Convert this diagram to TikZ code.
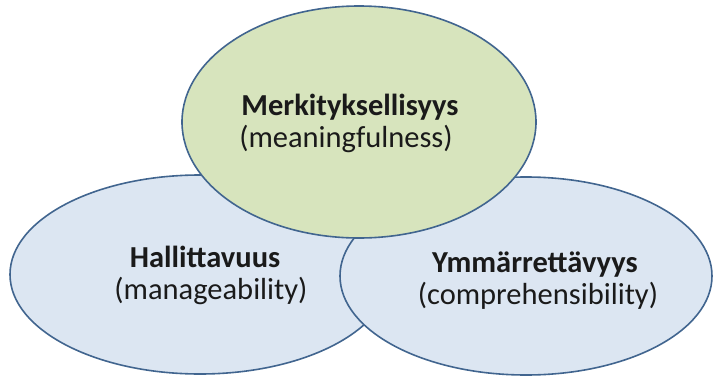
\documentclass[tikz,border=0pt]{standalone}
\usepackage{fontspec}
\setmainfont{Carlito}
\usetikzlibrary{shapes.geometric}
\definecolor{bluefill}{HTML}{DCE6F2}
\definecolor{greenfill}{HTML}{D7E4BD}
\definecolor{edge}{HTML}{41658F}
\definecolor{txt}{HTML}{1A1A1A}
\tikzset{
  blob/.style={ellipse, draw=edge, line width=1.6pt, inner sep=0pt, outer sep=0pt},
  lbl/.style={anchor=base, inner sep=0pt, text=txt, font=\fontsize{30.5}{32}\selectfont}
}
\begin{document}
\begin{tikzpicture}[x=1pt,y=-1pt]
\useasboundingbox (0,0) rectangle (713,378);
\node[blob, fill=bluefill, minimum width=380pt, minimum height=199pt] (hal) at (200,274.5) {};
\node[blob, fill=bluefill, minimum width=372pt, minimum height=198pt] (ymm) at (526,276) {};
\node[blob, fill=greenfill, minimum width=354pt, minimum height=232pt] (mer) at (359,122) {};
\node[lbl] (tmer) at (350,115) {\textbf{Merkityksellisyys}};
\node[lbl] (smer) at (346,147) {(meaningfulness)};
\node[lbl] (thal) at (205,267) {\textbf{Hallittavuus}};
\node[lbl] (shal) at (211,299) {(manageability)};
\node[lbl] (tymm) at (535,272) {\textbf{Ymmärrettävyys}};
\node[lbl] (symm) at (538,304) {(comprehensibility)};
\end{tikzpicture}
\end{document}
